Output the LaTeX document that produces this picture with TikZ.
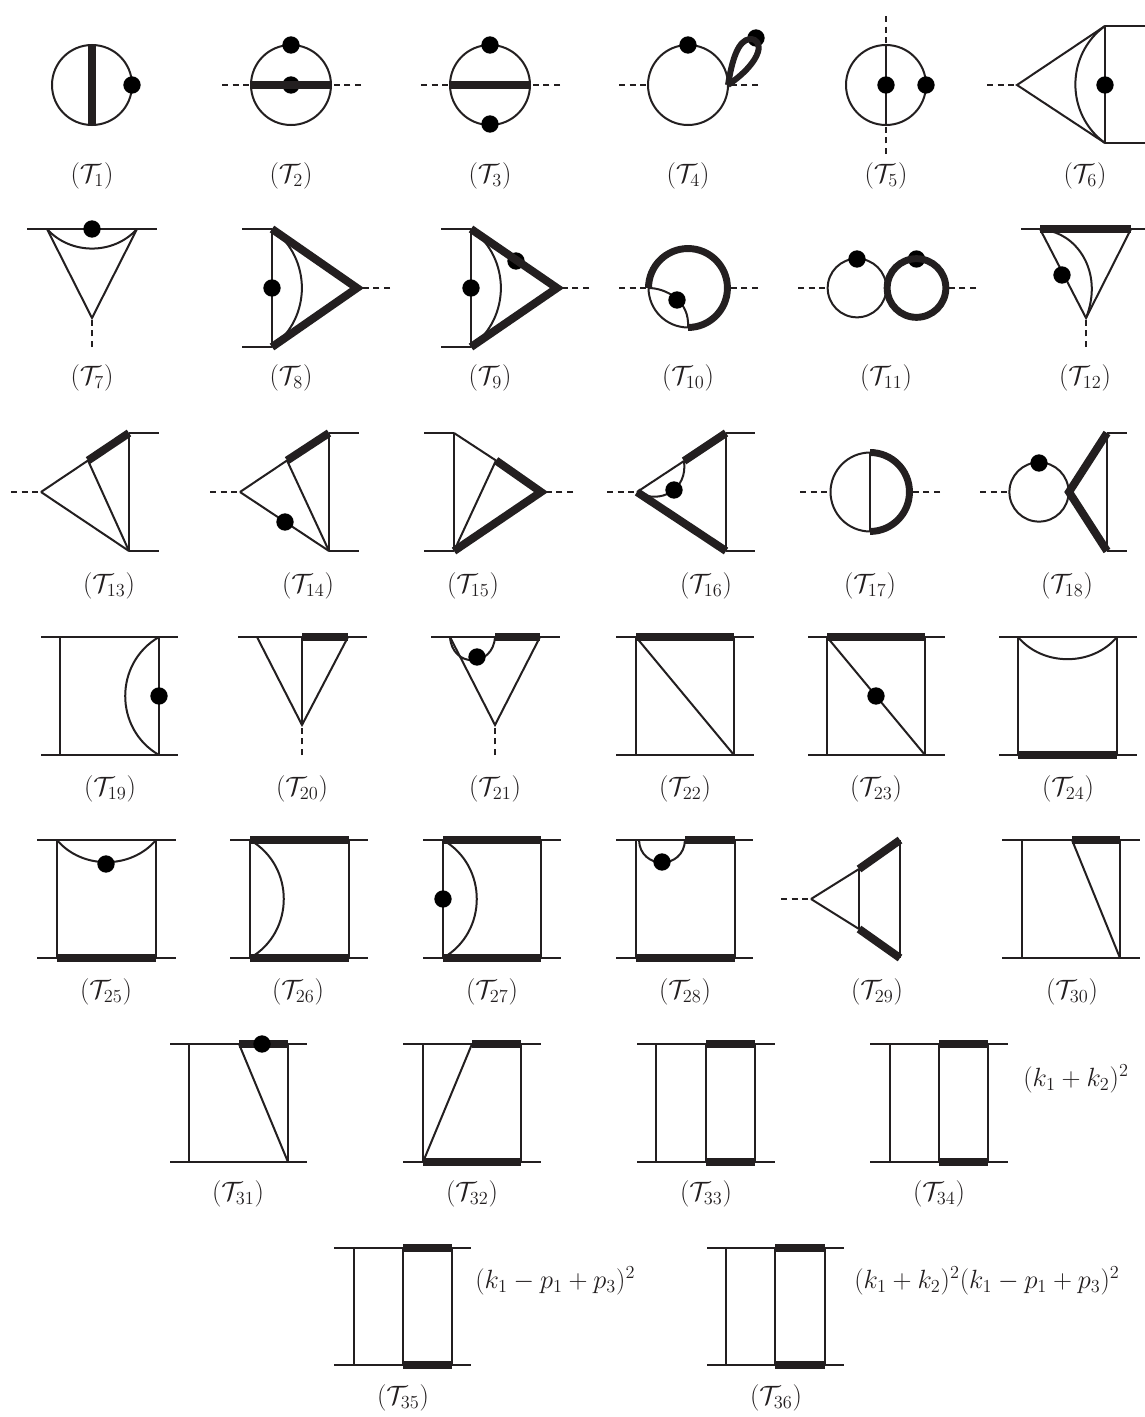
\documentclass[tikz,border=0pt]{standalone}
\definecolor{ink}{HTML}{231F20}
\tikzset{
  fine/.style={line width=1.5pt,draw=ink},
  heavy/.style={line width=6pt,draw=ink,line join=miter},
  ring/.style={line width=5.2pt,draw=ink},
  loopline/.style={line width=4.5pt,draw=ink,line join=round},
  dashl/.style={line width=1.5pt,draw=ink,dash pattern=on 4.5pt off 3.5pt},
  blob/.style={circle,fill=black,minimum size=13pt,inner sep=0pt},
  tlab/.style={font=\LARGE,scale=1.15,inner sep=0pt,text=ink},
  mtxt/.style={font=\LARGE,scale=1.145,inner sep=0pt,anchor=west,text=ink},
  sag/.style={bend left=54,looseness=1.07},
  deep/.style={bend left=60,looseness=1.13},
  deepr/.style={bend right=60,looseness=1.13}
}
\newcommand{\blobat}[3]{\node[blob] (#1) at (#2,#3) {};}
\newcommand{\lab}[3]{\node[tlab] (lab#1) at (#2,#3) {$(\mathcal{T}_{#1})$};}
% named corners of a box diagram: stubs x0..x3, corners x1,x2, rows yt,yb
\newcommand{\framecoords}[7]{%
  \coordinate (#1sl) at (#2,#6); \coordinate (#1tl) at (#3,#6);
  \coordinate (#1tr) at (#4,#6); \coordinate (#1sr) at (#5,#6);
  \coordinate (#1ul) at (#2,#7); \coordinate (#1bl) at (#3,#7);
  \coordinate (#1br) at (#4,#7); \coordinate (#1ur) at (#5,#7);}
\newcommand{\rails}[1]{\draw[fine] (#1sl) -- (#1sr); \draw[fine] (#1ul) -- (#1ur);
  \draw[fine] (#1tl) -- (#1bl); \draw[fine] (#1tr) -- (#1br);}
\begin{document}
\begin{tikzpicture}[x=0.75pt,y=-0.75pt]
\path[use as bounding box,fill=white] (0,0) rectangle (1145,1417);

% T1
\coordinate (c1) at (92,85); \coordinate (a1) at (92,45); \coordinate (b1) at (92,125);
\draw[fine] (c1) circle[radius=30pt];
\draw[heavy] (a1) -- (b1);
\blobat{d1}{132}{85}
\lab{1}{92}{176}
% T2
\coordinate (c2) at (291,85); \coordinate (a2) at (251,85); \coordinate (b2) at (331,85);
\coordinate (e2) at (222,85); \coordinate (f2) at (361,85);
\draw[fine] (c2) circle[radius=30pt];
\draw[dashl] (e2) -- (a2); \draw[dashl] (f2) -- (b2);
\blobat{d2a}{291}{45}\blobat{d2b}{291}{85}
\draw[heavy] (a2) -- (b2);
\lab{2}{291}{176}
% T3
\coordinate (c3) at (490,85); \coordinate (a3) at (450,85); \coordinate (b3) at (530,85);
\coordinate (e3) at (421,85); \coordinate (f3) at (560,85);
\draw[fine] (c3) circle[radius=30pt];
\draw[dashl] (e3) -- (a3); \draw[dashl] (f3) -- (b3);
\draw[heavy] (a3) -- (b3);
\blobat{d3a}{490}{45}\blobat{d3b}{490}{124}
\lab{3}{490}{176}
% T4
\coordinate (c4) at (688,85); \coordinate (a4) at (648,85); \coordinate (b4) at (728,85);
\coordinate (e4) at (619,85); \coordinate (f4) at (758,85);
\draw[fine] (c4) circle[radius=30pt];
\draw[dashl] (e4) -- (a4); \draw[dashl] (f4) -- (b4);
\blobat{d4a}{688}{45}\blobat{d4b}{756}{38}
\coordinate (g4) at (750,39);
\draw[loopline] (b4) .. controls (732,60) and (738,40) .. (g4) .. controls (764,39) and (764,60) .. (b4);
\lab{4}{688}{176}
% T5
\coordinate (c5) at (886,85); \coordinate (a5) at (886,45); \coordinate (b5) at (886,125);
\coordinate (e5) at (886,16); \coordinate (f5) at (886,154);
\draw[fine] (c5) circle[radius=30pt];
\draw[fine] (a5) -- (b5);
\draw[dashl] (e5) -- (a5); \draw[dashl] (f5) -- (b5);
\blobat{d5a}{886}{85}\blobat{d5b}{926}{85}
\lab{5}{886}{176}
% T6
\coordinate (a6) at (1017,85); \coordinate (e6) at (987,85);
\framecoords{t6}{1105}{1105}{1105}{1145}{26}{143}
\draw[dashl] (e6) -- (a6);
\draw[fine] (t6tl) -- (a6) -- (t6bl);
\draw[fine] (t6tl) -- (t6bl);
\draw[fine] (t6tl) -- (t6sr); \draw[fine] (t6bl) -- (t6ur);
\draw[fine] (t6tl) to[bend right=54,looseness=1.07] (t6bl);
\blobat{d6}{1105}{85}
\lab{6}{1085}{176}

% T7
\coordinate (a7) at (47,229); \coordinate (b7) at (137,229); \coordinate (v7) at (92,318);
\coordinate (e7) at (27,229); \coordinate (f7) at (157,229); \coordinate (g7) at (92,347);
\draw[fine] (e7) -- (f7);
\draw[fine] (a7) -- (v7) -- (b7);
\draw[dashl] (g7) -- (v7);
\draw[fine] (a7) to[bend right=48] (b7);
\blobat{d7}{92}{229}
\lab{7}{92}{378}
% T8
\coordinate (a8) at (272,229); \coordinate (b8) at (272,347); \coordinate (v8) at (357,288);
\coordinate (e8) at (242,229); \coordinate (f8) at (242,347); \coordinate (g8) at (390,288);
\draw[fine] (e8) -- (a8); \draw[fine] (f8) -- (b8); \draw[fine] (a8) -- (b8);
\draw[dashl] (g8) -- (v8);
\draw[fine] (a8) to[sag] (b8);
\draw[heavy] (a8) -- (v8) -- (b8);
\blobat{d8}{272}{288}
\lab{8}{291}{378}
% T9
\coordinate (a9) at (471,229); \coordinate (b9) at (471,347); \coordinate (v9) at (557,288);
\coordinate (e9) at (441,229); \coordinate (f9) at (441,347); \coordinate (g9) at (589,288);
\draw[fine] (e9) -- (a9); \draw[fine] (f9) -- (b9); \draw[fine] (a9) -- (b9);
\draw[dashl] (g9) -- (v9);
\draw[fine] (a9) to[sag] (b9);
\blobat{d9b}{516}{261}
\draw[heavy] (a9) -- (v9) -- (b9);
\blobat{d9a}{471}{288}
\lab{9}{490}{378}
% T10
\coordinate (c10) at (688,288); \coordinate (a10) at (648.5,288); \coordinate (b10) at (688,327.5);
\coordinate (r10) at (727.5,288);
\coordinate (e10) at (619,288); \coordinate (f10) at (758,288);
\draw[dashl] (e10) -- (a10); \draw[dashl] (f10) -- (r10);
\draw[fine] (c10) circle[radius=29.6pt];
\draw[ring] (a10) arc[start angle=180,end angle=-90,radius=29.6pt];
\draw[fine] (a10) .. controls (665,288) and (690,300) .. (b10);
\blobat{d10}{677}{300}
\lab{10}{688}{378}
% T11
\coordinate (c11a) at (857,288); \coordinate (c11b) at (916.5,288);
\coordinate (a11) at (828,288); \coordinate (b11) at (946,288);
\coordinate (e11) at (798,288); \coordinate (f11) at (976,288);
\draw[dashl] (e11) -- (a11); \draw[dashl] (f11) -- (b11);
\draw[fine] (c11a) circle[radius=22pt];
\blobat{d11a}{857}{259}\blobat{d11b}{916.5}{259}
\draw[ring] (c11b) circle[radius=22pt];
\lab{11}{886}{378}
% T12
\coordinate (a12) at (1040,229); \coordinate (b12) at (1131,229); \coordinate (v12) at (1086,318);
\coordinate (e12) at (1021,229); \coordinate (f12) at (1145,229); \coordinate (g12) at (1086,347);
\draw[fine] (e12) -- (f12);
\draw[fine] (a12) -- (v12) -- (b12);
\draw[dashl] (g12) -- (v12);
\draw[fine] (1050,231) .. controls (1080,238) and (1103,275) .. (v12);
\draw[heavy] (a12) -- (b12);
\blobat{d12}{1062}{275}
\lab{12}{1085}{378}

% T13
\coordinate (v13) at (41,492); \coordinate (e13) at (11,492); \coordinate (m13) at (88,460.5);
\framecoords{t13}{129}{129}{129}{159}{433}{551}
\draw[dashl] (e13) -- (v13);
\draw[fine] (v13) -- (m13); \draw[fine] (v13) -- (t13bl); \draw[fine] (m13) -- (t13bl);
\draw[fine] (t13tl) -- (t13bl); \draw[fine] (t13tl) -- (t13sr); \draw[fine] (t13bl) -- (t13ur);
\draw[heavy] (m13) -- (t13tl);
\lab{13}{109}{586}
% T14
\coordinate (v14) at (240,492); \coordinate (e14) at (210,492); \coordinate (m14) at (287,460.5);
\framecoords{t14}{329}{329}{329}{359}{433}{551}
\draw[dashl] (e14) -- (v14);
\draw[fine] (v14) -- (m14); \draw[fine] (v14) -- (t14bl); \draw[fine] (m14) -- (t14bl);
\draw[fine] (t14tl) -- (t14bl); \draw[fine] (t14tl) -- (t14sr); \draw[fine] (t14bl) -- (t14ur);
\draw[heavy] (m14) -- (t14tl);
\blobat{d14}{285}{522}
\lab{14}{308}{586}
% T15
\coordinate (v15) at (541,492); \coordinate (g15) at (573,492); \coordinate (m15) at (496,460.5);
\framecoords{t15}{424}{454}{454}{454}{433}{551}
\draw[dashl] (g15) -- (v15);
\draw[fine] (t15sl) -- (t15tl); \draw[fine] (t15ul) -- (t15bl); \draw[fine] (t15tl) -- (t15bl);
\draw[fine] (t15tl) -- (m15); \draw[fine] (m15) -- (t15bl);
\draw[heavy] (m15) -- (v15) -- (t15bl);
\lab{15}{473}{586}
% T16
\coordinate (v16) at (637,492); \coordinate (e16) at (607,492); \coordinate (m16) at (684,461);
\framecoords{t16}{726}{726}{726}{755}{433}{551}
\draw[dashl] (e16) -- (v16);
\draw[fine] (v16) -- (m16); \draw[fine] (t16tl) -- (t16bl);
\draw[fine] (t16tl) -- (t16sr); \draw[fine] (t16bl) -- (t16ur);
\draw[fine] (m16) .. controls (688,490) and (660,505) .. (v16);
\draw[heavy] (m16) -- (t16tl); \draw[heavy] (v16) -- (t16bl);
\blobat{d16}{674}{490}
\lab{16}{706}{586}
% T17
\coordinate (c17) at (870,492); \coordinate (a17) at (870,452.5); \coordinate (b17) at (870,531.5);
\coordinate (l17) at (830.5,492); \coordinate (r17) at (909.5,492);
\coordinate (e17) at (800,492); \coordinate (f17) at (940,492);
\draw[dashl] (e17) -- (l17); \draw[dashl] (f17) -- (r17);
\draw[fine] (c17) circle[radius=29.6pt];
\draw[fine] (a17) -- (b17);
\draw[ring] (a17) arc[start angle=90,end angle=-90,radius=29.6pt];
\lab{17}{870}{586}
% T18
\coordinate (c18) at (1039,492); \coordinate (l18) at (1009.5,492); \coordinate (v18) at (1069,492);
\coordinate (e18) at (980,492);
\framecoords{t18}{1107}{1107}{1107}{1127}{433}{551}
\draw[dashl] (e18) -- (l18);
\draw[fine] (c18) circle[radius=22.2pt];
\draw[fine] (t18tl) -- (t18bl); \draw[fine] (t18tl) -- (t18sr); \draw[fine] (t18bl) -- (t18ur);
\draw[heavy] (t18tl) -- (v18) -- (t18bl);
\blobat{d18}{1039}{463}
\lab{18}{1067}{586}

% T19
\framecoords{t19}{41}{60}{159}{178}{637}{755}
\rails{t19}
\draw[fine] (t19tr) to[deepr] (t19br);
\blobat{d19}{159}{696}
\lab{19}{110}{789}
% T20
\coordinate (a20) at (257,637); \coordinate (m20) at (302,637); \coordinate (b20) at (348,637);
\coordinate (e20) at (238,637); \coordinate (f20) at (367,637);
\coordinate (v20) at (302,725); \coordinate (g20) at (302,755);
\draw[fine] (e20) -- (f20);
\draw[fine] (a20) -- (v20) -- (b20); \draw[fine] (m20) -- (v20);
\draw[dashl] (g20) -- (v20);
\draw[heavy] (m20) -- (b20);
\lab{20}{302}{789}
% T21
\coordinate (a21) at (450,637); \coordinate (m21) at (495,637); \coordinate (b21) at (540,637);
\coordinate (e21) at (431,637); \coordinate (f21) at (560,637);
\coordinate (v21) at (495,725); \coordinate (g21) at (495,755);
\draw[fine] (e21) -- (f21);
\draw[fine] (a21) -- (v21) -- (b21);
\draw[dashl] (g21) -- (v21);
\draw[fine] (a21) .. controls (452,668) and (493,668) .. (m21);
\draw[heavy] (m21) -- (b21);
\blobat{d21}{477}{657}
\lab{21}{495}{789}
% T22
\framecoords{t22}{616}{636}{734}{754}{637}{755}
\rails{t22}
\draw[fine] (t22tl) -- (t22br);
\draw[heavy] (t22tl) -- (t22tr);
\lab{22}{685}{789}
% T23
\framecoords{t23}{808}{827}{925}{945}{637}{755}
\rails{t23}
\draw[fine] (t23tl) -- (t23br);
\draw[heavy] (t23tl) -- (t23tr);
\blobat{d23}{876}{696}
\lab{23}{876}{789}
% T24
\framecoords{t24}{999}{1018}{1117}{1137}{637}{755}
\rails{t24}
\draw[fine] (t24tl) to[bend right=50] (t24tr);
\draw[heavy] (t24bl) -- (t24br);
\lab{24}{1068}{789}

% T25
\framecoords{t25}{37}{57}{156}{176}{840}{958}
\rails{t25}
\draw[fine] (t25tl) to[bend right=50] (t25tr);
\draw[heavy] (t25bl) -- (t25br);
\blobat{d25}{106}{864}
\lab{25}{106}{992}
% T26
\framecoords{t26}{230}{250}{349}{368}{840}{958}
\rails{t26}
\draw[fine] (t26tl) to[deep] (t26bl);
\draw[heavy] (t26tl) -- (t26tr); \draw[heavy] (t26bl) -- (t26br);
\lab{26}{298}{992}
% T27
\framecoords{t27}{423}{443}{541}{561}{840}{958}
\rails{t27}
\draw[fine] (t27tl) to[deep] (t27bl);
\draw[heavy] (t27tl) -- (t27tr); \draw[heavy] (t27bl) -- (t27br);
\blobat{d27}{443}{899}
\lab{27}{492}{992}
% T28
\framecoords{t28}{616}{636}{735}{753}{840}{958}
\coordinate (m28) at (685,840); \coordinate (s28) at (639,840);
\rails{t28}
\draw[fine] (s28) .. controls (640,870) and (684,870) .. (m28);
\draw[heavy] (m28) -- (t28tr); \draw[heavy] (t28bl) -- (t28br);
\blobat{d28}{662}{862}
\lab{28}{685}{992}
% T29
\coordinate (v29) at (811,899); \coordinate (e29) at (781,899);
\coordinate (m29) at (859,869); \coordinate (n29) at (859,929);
\framecoords{t29}{900}{900}{900}{900}{840}{958}
\draw[dashl] (e29) -- (v29);
\draw[fine] (v29) -- (m29); \draw[fine] (v29) -- (n29); \draw[fine] (m29) -- (n29);
\draw[fine] (t29tl) -- (t29bl);
\draw[heavy] (m29) -- (t29tl); \draw[heavy] (n29) -- (t29bl);
\lab{29}{877}{992}
% T30
\framecoords{t30}{1002}{1022}{1120}{1140}{840}{958}
\coordinate (m30) at (1072,840);
\rails{t30}
\draw[fine] (m30) -- (t30br);
\draw[heavy] (m30) -- (t30tr);
\lab{30}{1072}{992}

% T31
\framecoords{t31}{170}{189}{288}{307}{1044}{1162}
\coordinate (m31) at (239,1044);
\rails{t31}
\draw[fine] (m31) -- (t31br);
\draw[heavy] (m31) -- (t31tr);
\blobat{d31}{262}{1044}
\lab{31}{238}{1194}
% T32
\framecoords{t32}{403}{423}{521}{541}{1044}{1162}
\coordinate (m32) at (472,1044);
\rails{t32}
\draw[fine] (m32) -- (t32bl);
\draw[heavy] (m32) -- (t32tr); \draw[heavy] (t32bl) -- (t32br);
\lab{32}{472}{1194}
% T33
\framecoords{t33}{637}{656}{755}{775}{1044}{1162}
\coordinate (m33) at (706,1044); \coordinate (n33) at (706,1162);
\rails{t33}
\draw[fine] (m33) -- (n33);
\draw[heavy] (m33) -- (t33tr); \draw[heavy] (n33) -- (t33br);
\lab{33}{706}{1194}
% T34
\framecoords{t34}{870}{890}{988}{1008}{1044}{1162}
\coordinate (m34) at (939,1044); \coordinate (n34) at (939,1162);
\rails{t34}
\draw[fine] (m34) -- (n34);
\draw[heavy] (m34) -- (t34tr); \draw[heavy] (n34) -- (t34br);
\lab{34}{939}{1194}
\node[mtxt] (x34) at (1023,1079) {$(k_1+k_2)^2$};
% T35
\framecoords{t35}{334}{354}{452}{471}{1248}{1365}
\coordinate (m35) at (403,1248); \coordinate (n35) at (403,1365);
\rails{t35}
\draw[fine] (m35) -- (n35);
\draw[heavy] (m35) -- (t35tr); \draw[heavy] (n35) -- (t35br);
\lab{35}{403}{1398}
\node[mtxt] (x35) at (475,1281) {$(k_1-p_1+p_3)^2$};
% T36
\framecoords{t36}{707}{726}{825}{844}{1248}{1365}
\coordinate (m36) at (775,1248); \coordinate (n36) at (775,1365);
\rails{t36}
\draw[fine] (m36) -- (n36);
\draw[heavy] (m36) -- (t36tr); \draw[heavy] (n36) -- (t36br);
\lab{36}{776}{1398}
\node[mtxt] (x36) at (854,1281) {$(k_1+k_2)^2(k_1-p_1+p_3)^2$};
\end{tikzpicture}
\end{document}
